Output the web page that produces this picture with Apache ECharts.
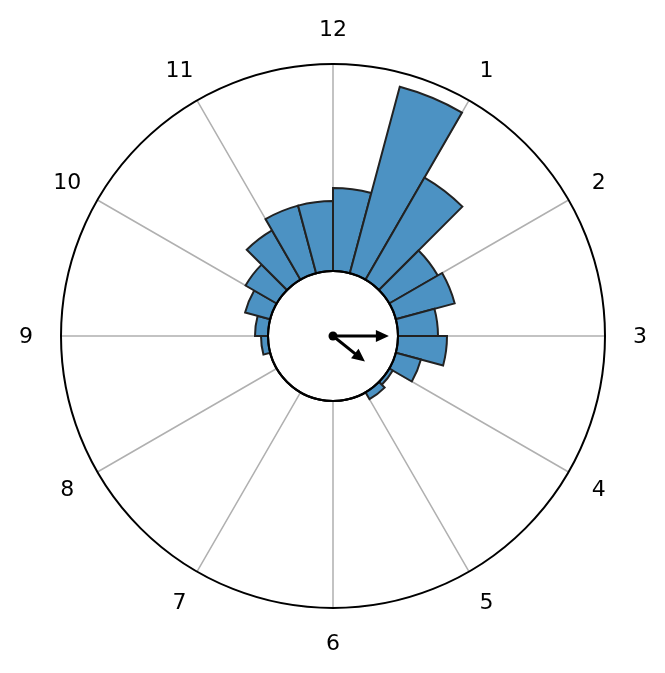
<!DOCTYPE html>
<html>
<head>
<meta charset="utf-8">
<script src="https://cdn.jsdelivr.net/npm/echarts@6/dist/echarts.min.js"></script>
<style>
html,body{margin:0;padding:0;background:#fff;}
#chart{width:665px;height:673px;}
</style>
</head>
<body>
<div id="chart"></div>
<script>
// 24 half-hour bins on a 12-hour clock face
const binLabels = ['12:00','12:30','1:00','1:30','2:00','2:30','3:00','3:30','4:00','4:30','5:00','5:30',
                   '6:00','6:30','7:00','7:30','8:00','8:30','9:00','9:30','10:00','10:30','11:00','11:30'];
const binCounts = [83, 193, 118, 56, 61, 40, 49, 26, 4, 8, 0, 0,
                   0, 0, 0, 0, 0, 7, 13, 26, 36, 57, 70, 70];
const countMax = 207;
// hour tick labels
const hourTicks = [0,1,2,3,4,5,6,7,8,9,10,11];
const hourNames = ['12','1','2','3','4','5','6','7','8','9','10','11'];
// mean-direction arrows: [length (fraction of inner disc), direction in hours]
const arrowLengths = [0.86, 0.63];
const arrowHours = [3.0, 4.29];

const chart = echarts.init(document.getElementById('chart'), null, {renderer:'canvas'});
const center = [333, 336];
const labelRadius = 242; // radial position of hour labels, in radius-axis units (outside the outer ring)
const arrowData = arrowLengths.map((r, i) => [r, arrowHours[i]]);
const labelData = hourTicks.map((h, i) => [labelRadius, h, hourNames[i]]);

const option = {
  backgroundColor: '#ffffff',
  animation: false,
  polar: [
    {center: center, radius: [65, 272]},
    {center: center, radius: [65, 272]},
    {center: center, radius: [0, 65]}
  ],
  angleAxis: [
    {
      polarIndex: 0, type: 'value', min: 0, max: 12, interval: 1,
      startAngle: 90, clockwise: true, z: 0,
      axisLine: {show: true, lineStyle: {color: '#000', width: 2}},
      axisTick: {show: false},
      splitLine: {show: true, lineStyle: {color: '#b0b0b0', width: 1.5}},
      axisLabel: {show: false}
    },
    {
      polarIndex: 1, type: 'category', data: binLabels,
      startAngle: 90, clockwise: true, boundaryGap: true, show: false
    },
    {
      polarIndex: 2, type: 'value', min: 0, max: 12,
      startAngle: 90, clockwise: true, z: 10,
      axisLine: {show: true, lineStyle: {color: '#000', width: 2}},
      axisTick: {show: false}, axisLabel: {show: false}, splitLine: {show: false}
    }
  ],
  radiusAxis: [
    {polarIndex: 0, type: 'value', min: 0, max: countMax, show: false, splitLine: {show: false}},
    {polarIndex: 1, type: 'value', min: 0, max: countMax, show: false, splitLine: {show: false}},
    {polarIndex: 2, type: 'value', min: 0, max: 1, show: false, splitLine: {show: false}}
  ],
  series: [
    {
      type: 'bar', coordinateSystem: 'polar', polarIndex: 1,
      data: binCounts, barCategoryGap: '0%', z: 3,
      itemStyle: {color: '#4c92c3', borderColor: '#222', borderWidth: 2}
    },
    {
      type: 'custom', coordinateSystem: 'polar', polarIndex: 0, z: 4, silent: true,
      data: labelData,
      renderItem: function (params, api) {
        const p = api.coord([api.value(0), api.value(1)]);
        return {
          type: 'text',
          style: {
            x: p[0], y: p[1] + 1, text: hourNames[params.dataIndex],
            align: 'center', verticalAlign: 'middle',
            fill: '#000', fontSize: 22, fontFamily: 'DejaVu Sans'
          }
        };
      }
    },
    {
      type: 'custom', coordinateSystem: 'polar', polarIndex: 2, z: 12,
      data: arrowData,
      renderItem: function (params, api) {
        const c = api.coord([0, 0]);
        const t = api.coord([api.value(0), api.value(1)]);
        const dx = t[0] - c[0], dy = t[1] - c[1];
        const len = Math.sqrt(dx * dx + dy * dy);
        const ux = dx / len, uy = dy / len;
        const hl = 13, hw = 6;
        const bx = t[0] - ux * hl, by = t[1] - uy * hl;
        return {
          type: 'group',
          children: [
            {type: 'line', shape: {x1: c[0], y1: c[1], x2: bx + ux, y2: by + uy},
             style: {stroke: '#000', lineWidth: 3}},
            {type: 'polygon', shape: {points: [[t[0], t[1]], [bx - uy * hw, by + ux * hw], [bx + uy * hw, by - ux * hw]]},
             style: {fill: '#000'}}
          ]
        };
      }
    },
    {
      type: 'scatter', coordinateSystem: 'polar', polarIndex: 2, z: 13,
      data: [[0, 0]], symbol: 'circle', symbolSize: 9,
      itemStyle: {color: '#000', opacity: 1}
    }
  ]
};
chart.setOption(option);
</script>
</body>
</html>
